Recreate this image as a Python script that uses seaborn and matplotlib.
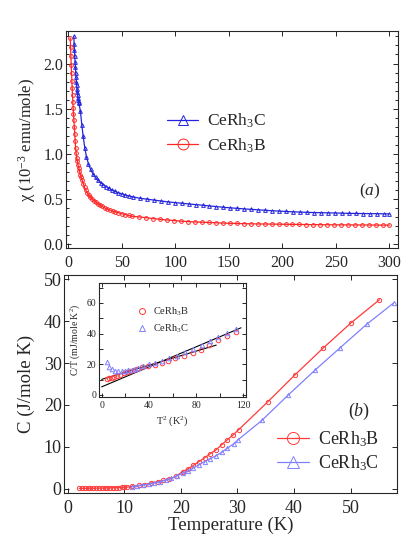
import numpy as np
import pandas as pd
import seaborn as sns
import matplotlib.pyplot as plt
from matplotlib.ticker import MultipleLocator

# --- susceptibility, panel (a) ---
T_chi_B = [2.0, 2.3, 2.6, 2.9, 3.2, 3.5, 3.8, 4.1, 4.4, 4.7, 5.0, 5.4, 5.8, 6.2, 6.6,
           7.0, 7.5, 8.0, 8.6, 9.2, 9.9, 10.6, 11.4, 12.3, 13.2, 14.2, 15.3, 16.5,
           17.8, 19.2, 20.7, 22.3, 24.0, 25.8, 27.7, 29.7, 31.8, 34.0, 36.4, 38.9,
           41.5, 44.2, 47.0, 50.0, 53.0, 56.5, 60.0, 66.5, 73.0, 79.5, 86.0, 92.5,
           99.0, 105.5, 112.0, 118.5, 125.0, 131.5, 138.0, 144.5, 151.0, 157.5,
           164.0, 170.5, 177.0, 183.5, 190.0, 196.5, 203.0, 209.5, 216.0, 222.5,
           229.0, 235.5, 242.0, 248.5, 255.0, 261.5, 268.0, 274.5, 281.0, 287.5,
           294.0, 300.0]
chi_B = [2.28, 2.18, 2.08, 1.98, 1.89, 1.81, 1.73, 1.65, 1.58, 1.51, 1.44, 1.37, 1.30,
         1.22, 1.14, 1.07, 1.01, 0.96, 0.92, 0.88, 0.85, 0.81, 0.77, 0.74, 0.71, 0.67,
         0.63, 0.60, 0.57, 0.545, 0.525, 0.505, 0.485, 0.47, 0.45, 0.435, 0.42, 0.405,
         0.39, 0.38, 0.37, 0.36, 0.35, 0.34, 0.33, 0.32, 0.31, 0.303, 0.295, 0.285,
         0.277, 0.27, 0.263, 0.257, 0.252, 0.248, 0.245, 0.242, 0.239, 0.236, 0.233,
         0.231, 0.229, 0.227, 0.226, 0.225, 0.224, 0.223, 0.222, 0.221, 0.22, 0.219,
         0.218, 0.218, 0.217, 0.216, 0.216, 0.215, 0.215, 0.214, 0.214, 0.213, 0.213,
         0.213]

T_chi_C = [5.3, 5.6, 5.9, 6.2, 6.5, 6.8, 7.1, 7.4, 7.7, 8.0, 8.3, 8.6, 8.9, 9.2, 9.5,
           9.8, 10.1, 11.5, 12.8, 14.0, 15.5, 17.1, 19.0, 21.0, 23.2, 25.6, 28.0, 30.5,
           33.0, 35.6, 38.3, 41.0, 44.0, 47.0, 50.0, 53.5, 57.0, 60.5, 67.0, 73.5, 80.0,
           86.5, 93.0, 99.5, 106.0, 112.5, 119.0, 125.5, 132.0, 138.5, 145.0, 151.5,
           158.0, 164.5, 171.0, 177.5, 184.0, 190.5, 197.0, 203.5, 210.0, 216.5, 223.0,
           229.5, 236.0, 242.5, 249.0, 255.5, 262.0, 268.5, 275.0, 281.5, 288.0, 294.5,
           300.0]
chi_C = [2.30, 2.22, 2.15, 2.08, 2.02, 1.96, 1.90, 1.85, 1.80, 1.76, 1.72, 1.68, 1.65,
         1.62, 1.60, 1.58, 1.56, 1.47, 1.32, 1.20, 1.07, 0.97, 0.89, 0.83, 0.78, 0.74,
         0.71, 0.68, 0.66, 0.64, 0.62, 0.60, 0.585, 0.57, 0.56, 0.545, 0.535, 0.525,
         0.51, 0.50, 0.49, 0.48, 0.47, 0.462, 0.455, 0.447, 0.44, 0.433, 0.425, 0.418,
         0.41, 0.404, 0.398, 0.392, 0.387, 0.382, 0.377, 0.372, 0.368, 0.364, 0.36,
         0.357, 0.354, 0.352, 0.35, 0.349, 0.347, 0.345, 0.343, 0.342, 0.341, 0.34,
         0.339, 0.338, 0.337]

# --- specific heat, panel (b) ---
T_C_B = [2.0, 2.5, 3.0, 3.5, 4.0, 4.5, 5.0, 5.5, 6.0, 6.5, 7.0, 7.5, 8.0, 8.5, 9.0,
         9.5, 10.0, 10.5, 11.3, 12.5, 13.5, 14.7, 15.9, 16.9, 17.9, 19.1, 20.3, 21.3,
         22.2, 23.2, 24.2, 25.2, 26.2, 27.2, 28.2, 29.2, 30.2, 35.4, 40.1, 45.1, 50.1,
         55.1]
C_B = [0.1, 0.1, 0.12, 0.13, 0.14, 0.15, 0.16, 0.17, 0.18, 0.2, 0.22, 0.24, 0.26,
       0.28, 0.3, 0.33, 0.36, 0.4, 0.6, 0.8, 1.0, 1.4, 1.7, 2.0, 2.3, 3.0, 4.1, 4.8,
       5.6, 6.5, 7.4, 8.4, 9.3, 10.5, 11.7, 12.8, 14.1, 20.8, 27.1, 33.5, 39.6, 45.1]

T_C_C = [11.3, 12.3, 13.3, 14.3, 15.3, 16.3, 17.3, 18.3, 19.3, 20.3, 21.3, 22.2, 23.2,
         24.2, 25.2, 26.2, 27.2, 28.2, 29.3, 30.1, 34.3, 39.0, 43.7, 48.2, 52.9, 57.6]
C_C = [0.5, 0.7, 0.9, 1.1, 1.4, 1.7, 2.1, 2.5, 3.1, 3.7, 4.3, 5.0, 5.8, 6.5, 7.2, 7.9,
       8.7, 9.7, 10.7, 11.7, 16.3, 22.4, 28.3, 33.7, 39.3, 44.3]

# --- inset: C/T vs T^2 ---
T2_B = [4.2, 6.2, 8.5, 10.8, 13.1, 15.6, 18.5, 21.3, 24.1, 27.0, 29.8, 34.0, 39.6,
        45.2, 50.8, 56.5, 62.5, 69.7, 77.0, 83.9, 91.2, 98.3, 105.9, 113.6]
CT_B = [10.4, 10.9, 11.3, 11.7, 12.4, 13.0, 14.1, 14.8, 15.7, 16.3, 17.0, 18.1, 19.1,
        19.8, 20.7, 22.2, 23.8, 25.6, 27.6, 29.4, 32.6, 35.9, 38.5, 41.3]
T2_C = [4.2, 6.2, 8.5, 11.3, 14.1, 16.9, 19.7, 22.6, 25.4, 28.2, 31.0, 35.3, 40.1,
        45.2, 50.8, 57.0, 63.5, 70.6, 77.6, 84.7, 91.8, 98.3, 105.9, 113.6]
CT_C = [21.7, 18.5, 16.7, 15.9, 15.7, 15.7, 15.9, 16.3, 16.5, 17.0, 17.4, 18.9, 20.0,
        21.1, 22.4, 23.9, 25.6, 27.8, 29.8, 32.5, 35.0, 38.0, 40.2, 42.8]
fit_B_x = [0, 97]
fit_B_y = [10.2, 32.5]
fit_C_x = [0, 118]
fit_C_y = [5.3, 43.8]

sns.set_theme(style="ticks")
plt.rcParams.update({
    "font.family": ["Liberation Serif", "DejaVu Serif"],
    "mathtext.fontset": "custom",
    "mathtext.rm": "Liberation Serif",
    "mathtext.it": "Liberation Serif:italic",
    "axes.linewidth": 0.8,
    "axes.edgecolor": "0.15",
    "xtick.color": "0.15",
    "ytick.color": "0.15",
})

RED_A, BLUE_A = "#ff2626", "#2424dc"
RED_B, BLUE_B = "#ff3a3a", "#8080ff"


def style_axes(ax, labelsize, major=3.5, minor=2.0, pad=2):
    ax.tick_params(which="both", direction="in", top=True, right=True,
                   labelsize=labelsize, width=0.7, pad=pad)
    ax.tick_params(which="major", length=major)
    ax.tick_params(which="minor", length=minor)
    for s in ax.spines.values():
        s.set_visible(True)


def curve(ax, x, y, color, marker, ms, label=None, lw=0.9, line=True):
    sns.lineplot(x=x, y=y, ax=ax, color=color, lw=lw if line else 0,
                 marker=marker, markersize=ms, markerfacecolor="none",
                 markeredgecolor=color, markeredgewidth=0.7,
                 sort=False, estimator=None, label=label, legend=False)


fig = plt.figure(figsize=(4.15, 5.37), dpi=100)
ax_a = fig.add_axes([0.159, 0.5382, 0.800, 0.4041])
ax_b = fig.add_axes([0.1554, 0.0819, 0.8024, 0.406])
ax_in = fig.add_axes([0.2393, 0.2616, 0.3528, 0.2114])

# panel (a)
curve(ax_a, T_chi_C, chi_C, BLUE_A, "^", 2.7, "CeRh$_3$C")
curve(ax_a, T_chi_B, chi_B, RED_A, "o", 2.7, "CeRh$_3$B")
ax_a.set_xlim(-2, 308)
ax_a.set_ylim(-0.04, 2.36)
ax_a.xaxis.set_major_locator(MultipleLocator(50))
ax_a.yaxis.set_major_locator(MultipleLocator(0.5))
ax_a.yaxis.set_minor_locator(MultipleLocator(0.1))
ax_a.yaxis.set_major_formatter(plt.FormatStrFormatter("%.1f"))
style_axes(ax_a, 11.5)
ax_a.tick_params(axis="x", pad=5)
ax_a.set_xlabel("")
ax_a.set_ylabel("χ (10$^{-3}$ emu/mole)", fontsize=12, labelpad=4)
ax_a.legend(loc="center left", bbox_to_anchor=(0.304, 0.528), frameon=False,
            fontsize=12.5, markerscale=2.9, handlelength=1.8, handletextpad=0.5,
            labelspacing=0.35, borderpad=0, borderaxespad=0)
ax_a.text(0.915, 0.26, "($a$)", transform=ax_a.transAxes, fontsize=12.5,
          ha="center", va="center")

# panel (b)
curve(ax_b, T_C_B, C_B, RED_B, "o", 3.1, "CeRh$_3$B")
curve(ax_b, T_C_C, C_C, BLUE_B, "^", 3.1, "CeRh$_3$C")
ax_b.set_xlim(-0.6, 58.3)
ax_b.set_ylim(-1, 51)
ax_b.xaxis.set_major_locator(MultipleLocator(10))
ax_b.yaxis.set_major_locator(MultipleLocator(10))
style_axes(ax_b, 13)
ax_b.tick_params(axis="x", pad=5)
ax_b.set_ylabel("C (J/mole K)", fontsize=13.5, labelpad=6)
ax_b.set_xlabel("Temperature (K)", fontsize=13.5)
ax_b.xaxis.set_label_coords(0.5, -0.108)
ax_b.legend(loc="center left", bbox_to_anchor=(0.638, 0.191), frameon=False,
            fontsize=13, markerscale=2.8, handlelength=1.8, handletextpad=0.5,
            labelspacing=0.25, borderpad=0, borderaxespad=0)
ax_b.text(0.885, 0.375, "($b$)", transform=ax_b.transAxes, fontsize=13,
          ha="center", va="center")

# inset
sns.lineplot(x=fit_B_x, y=fit_B_y, ax=ax_in, color="black", lw=0.8, legend=False)
sns.lineplot(x=fit_C_x, y=fit_C_y, ax=ax_in, color="black", lw=0.8, legend=False)
curve(ax_in, T2_B, CT_B, RED_B, "o", 3.3, "CeRh$_3$B", line=False)
curve(ax_in, T2_C, CT_C, BLUE_B, "^", 3.3, "CeRh$_3$C", line=False)
ax_in.set_xlim(-2, 122)
ax_in.set_ylim(-1, 73)
ax_in.xaxis.set_major_locator(MultipleLocator(40))
ax_in.xaxis.set_minor_locator(MultipleLocator(20))
ax_in.yaxis.set_major_locator(MultipleLocator(20))
ax_in.yaxis.set_minor_locator(MultipleLocator(10))
style_axes(ax_in, 7, major=3, minor=3, pad=2)
ax_in.tick_params(axis="x", pad=3)
ax_in.set_xlabel("T$^2$ (K$^2$)", fontsize=7.5, labelpad=3)
ax_in.set_ylabel("C/T (mJ/mole K$^2$)", fontsize=7, labelpad=3)
ax_in.legend(loc="center left", bbox_to_anchor=(0.255, 0.671), frameon=False,
             fontsize=7.5, markerscale=1.3, handlelength=1.0, handletextpad=0.6,
             labelspacing=0.5, borderpad=0, borderaxespad=0)

fig.savefig("out.png", dpi=100)
